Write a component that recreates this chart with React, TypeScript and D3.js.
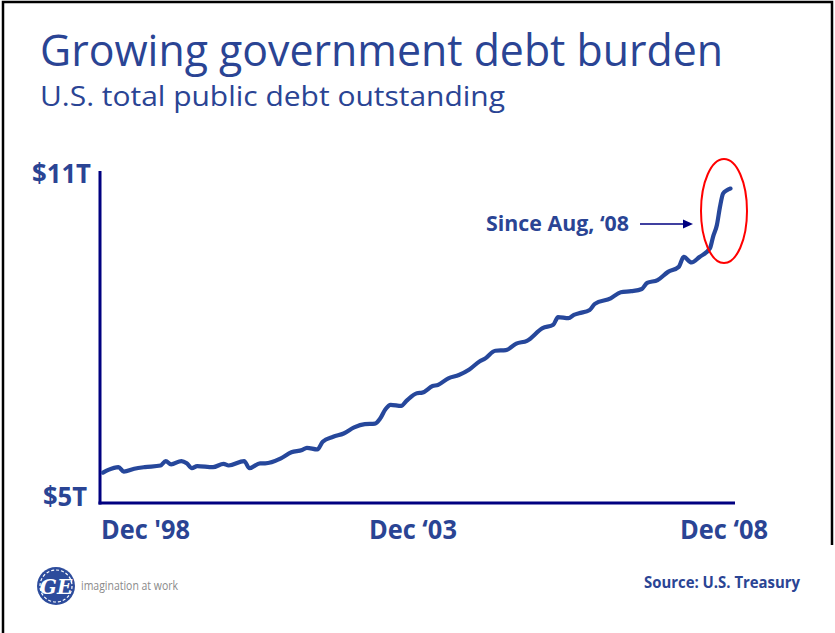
import React from 'react';
import * as d3 from 'd3';

const dates = [
  '1998-12-01','1999-01-01','1999-03-01','1999-04-01','1999-06-01','1999-08-01','1999-11-01','1999-12-01',
  '2000-01-01','2000-03-01','2000-04-01','2000-05-01','2000-06-01','2000-09-01','2000-11-01','2000-12-01',
  '2001-03-01','2001-04-01','2001-06-01','2001-07-01','2001-10-01','2001-12-01',
  '2002-02-01','2002-03-01','2002-05-01','2002-06-01','2002-08-01','2002-10-01','2002-12-01',
  '2003-02-01','2003-04-01','2003-05-01','2003-06-01','2003-07-01','2003-09-01','2003-10-01','2003-12-01',
  '2004-01-01','2004-03-01','2004-04-01','2004-06-01','2004-08-01','2004-10-01','2004-12-01',
  '2005-01-01','2005-03-01','2005-05-01','2005-07-01','2005-09-01','2005-12-01',
  '2006-02-01','2006-03-01','2006-05-01','2006-06-01','2006-07-01','2006-09-01','2006-10-01',
  '2007-01-01','2007-03-01','2007-05-01','2007-07-01','2007-08-01','2007-10-01','2007-12-01',
  '2008-02-01','2008-03-01','2008-04-15','2008-06-01','2008-08-01','2008-08-19','2008-09-10',
  '2008-09-28','2008-10-16','2008-11-07','2008-11-28'
];
const debtTrillions = [
  5.55, 5.60, 5.65, 5.57, 5.62, 5.65, 5.68, 5.76,
  5.70, 5.76, 5.72, 5.63, 5.67, 5.65, 5.71, 5.68,
  5.76, 5.63, 5.72, 5.72, 5.81, 5.92,
  5.96, 6.00, 5.97, 6.11, 6.20, 6.26, 6.37,
  6.43, 6.44, 6.53, 6.70, 6.78, 6.76, 6.85, 6.99,
  7.00, 7.12, 7.14, 7.26, 7.32, 7.42, 7.57,
  7.62, 7.76, 7.77, 7.89, 7.94, 8.17,
  8.23, 8.37, 8.35, 8.41, 8.44, 8.50, 8.61,
  8.71, 8.82, 8.84, 8.88, 8.99, 9.04, 9.19,
  9.28, 9.46, 9.36, 9.46, 9.62, 9.83, 10.04,
  10.37, 10.61, 10.67, 10.70
];
const yTickValues = [5, 11];
const yTickLabels = ['$5T', '$11T'];
const xTickDates = ['1998-12-01', '2003-12-01', '2008-12-01'];
const xTickLabels = ["Dec '98", 'Dec \u201803', 'Dec \u201808'];
const titleText = 'Growing government debt burden';
const subtitleText = 'U.S. total public debt outstanding';
const annotationText = 'Since Aug, \u201808';
const sourceText = 'Source: U.S. Treasury';
const taglineText = 'imagination at work';

const BLUE = '#2a4494';
const LINE = '#26479b';
const NAVY = '#000080';
const LABEL_FONT = "'Open Sans', 'Noto Sans', sans-serif";

export default function App() {
  const parse = d3.timeParse('%Y-%m-%d');
  const data = dates.map((d, i) => ({ date: parse(d) as Date, value: debtTrillions[i] }));
  const x = d3.scaleTime()
    .domain([parse('1998-12-01') as Date, parse('2008-12-01') as Date])
    .range([103, 731]);
  const y = d3.scaleLinear().domain([5, 11]).range([503, 172]);
  const line = d3.line<{ date: Date; value: number }>()
    .x(d => x(d.date))
    .y(d => y(d.value))
    .curve(d3.curveMonotoneX);

  const yLabelStyle = [
    { x: 43, len: 44, dy: 3 },
    { x: 32, len: 59, dy: 11 },
  ];
  const xLabelStyle = [
    { dx: -2, len: 89, anchor: 'start' },
    { dx: -4, len: 88, anchor: 'middle' },
    { dx: -7, len: 88, anchor: 'middle' },
  ];

  return (
    <svg width={835} height={633} style={{ position: 'absolute', left: 0, top: 0, background: '#fff' }}>
      <rect x={0} y={0} width={835} height={633} fill="#fff" />
      {/* frame */}
      <path d="M3,633 V2 H832 V545" fill="none" stroke="#000" strokeWidth={2.5} />

      {/* titles */}
      <text x={40} y={66} fill={BLUE} fontFamily={LABEL_FONT} fontWeight={500} fontSize={44}
        textLength={683} lengthAdjust="spacingAndGlyphs">{titleText}</text>
      <text x={40} y={106} fill={BLUE} fontFamily={LABEL_FONT} fontWeight={500} fontSize={28}
        textLength={465} lengthAdjust="spacingAndGlyphs">{subtitleText}</text>

      {/* axes */}
      <line x1={100} y1={171} x2={100} y2={504.5} stroke={NAVY} strokeWidth={3} />
      <line x1={98.5} y1={503} x2={735} y2={503} stroke={NAVY} strokeWidth={3} />

      {/* y labels */}
      {yTickValues.map((v, i) => (
        <text key={v} x={yLabelStyle[i].x} y={y(v) + yLabelStyle[i].dy} fill={BLUE}
          fontFamily={LABEL_FONT} fontWeight={700} fontSize={26}
          textLength={yLabelStyle[i].len} lengthAdjust="spacingAndGlyphs">{yTickLabels[i]}</text>
      ))}

      {/* x labels */}
      {xTickDates.map((d, i) => (
        <text key={d} x={x(parse(d) as Date) + xLabelStyle[i].dx} y={539} fill={BLUE}
          textAnchor={xLabelStyle[i].anchor as any}
          fontFamily={LABEL_FONT} fontWeight={700} fontSize={26}
          textLength={xLabelStyle[i].len} lengthAdjust="spacingAndGlyphs">{xTickLabels[i]}</text>
      ))}

      {/* series */}
      <path d={line(data) || ''} fill="none" stroke={LINE} strokeWidth={4.2}
        strokeLinejoin="round" strokeLinecap="round" />

      {/* annotation */}
      <text x={486} y={231} fill={BLUE} fontFamily={LABEL_FONT} fontWeight={700} fontSize={21}
        textLength={143} lengthAdjust="spacingAndGlyphs">{annotationText}</text>
      <line x1={640} y1={224} x2={685} y2={224} stroke={NAVY} strokeWidth={1.5} />
      <path d="M683,219.5 L693,224 L683,228.5 Z" fill={NAVY} />
      <ellipse cx={724} cy={211} rx={23} ry={52} fill="none" stroke="#ff0000" strokeWidth={2} />

      {/* footer */}
      <g>
        <circle cx={56} cy={586} r={19} fill="#2d4c9c" />
        <circle cx={56} cy={586} r={16} fill="none" stroke="#fff" strokeWidth={1.2} strokeDasharray="3 2" />
        <text x={56} y={594} textAnchor="middle" fill="#fff" fontFamily="'DejaVu Serif', serif"
          fontStyle="italic" fontWeight={700} fontSize={20}>GE</text>
      </g>
      <text x={81} y={590} fill="#8a8a8a" fontFamily={LABEL_FONT} fontSize={12}
        textLength={97} lengthAdjust="spacingAndGlyphs">{taglineText}</text>
      <text x={644} y={588} fill={BLUE} fontFamily={LABEL_FONT} fontWeight={700} fontSize={16}
        textLength={156} lengthAdjust="spacingAndGlyphs">{sourceText}</text>
    </svg>
  );
}
